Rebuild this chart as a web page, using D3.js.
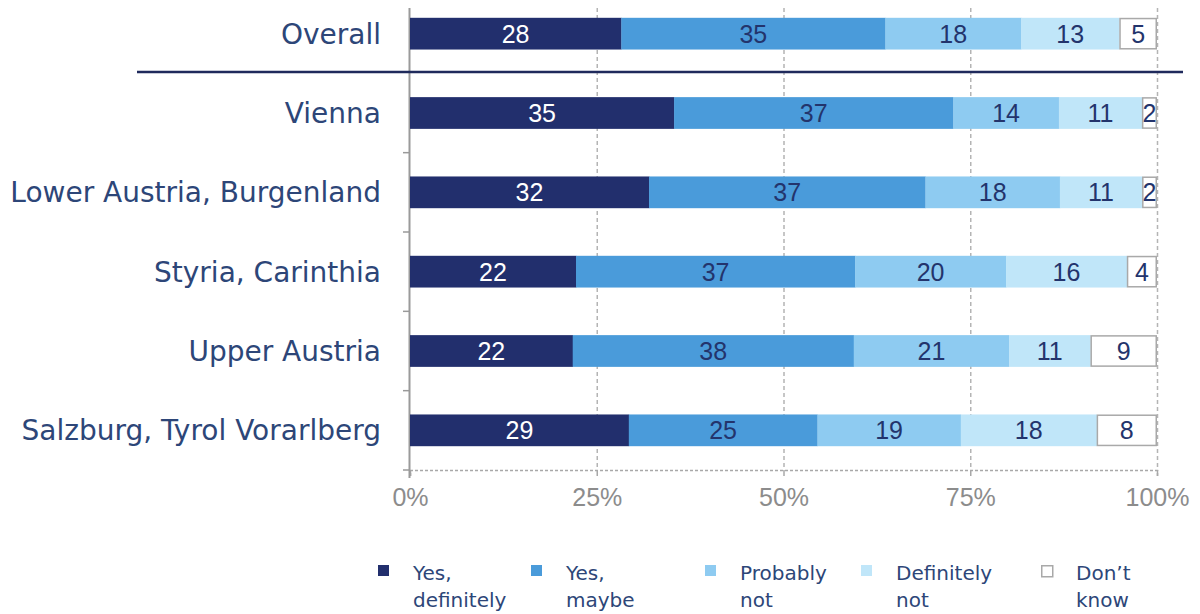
<!DOCTYPE html>
<html>
<head>
<meta charset="utf-8">
<script src="https://cdn.jsdelivr.net/npm/d3@7"></script>
<style>
  body { margin: 0; background: #fff; }
</style>
</head>
<body>
<div id="chart"></div>
<script>
// data
let regions = ["Overall", "Vienna", "Lower Austria, Burgenland", "Styria, Carinthia", "Upper Austria", "Salzburg, Tyrol Vorarlberg"];
let answers = ["Yes, definitely", "Yes, maybe", "Probably not", "Definitely not", "Don’t know"];
let yesDefinitely = [28, 35, 32, 22, 22, 29];
let yesMaybe = [35, 37, 37, 37, 38, 25];
let probablyNot = [18, 14, 18, 20, 21, 19];
let definitelyNot = [13, 11, 11, 16, 11, 18];
let dontKnow = [5, 2, 2, 4, 9, 8];
let tickValues = [0, 25, 50, 75, 100];

// size
let width = 1200;
let height = 614;
let margin = { top: 8, left: 410, right: 43, bottom: 144 };
let chartWidth = width - margin.left - margin.right;
let colors = ["#222f6d", "#4a9bda", "#8ecbf1", "#c0e6f9", "#ffffff"];
let textColors = ["#ffffff", "#23346c", "#23346c", "#23346c", "#23346c"];
let navy = "#2d4678";

let series = [yesDefinitely, yesMaybe, probablyNot, definitelyNot, dontKnow];

let svg = d3.select("#chart").append("svg").attr("width", width).attr("height", height)
    .style("font-family", "'Liberation Sans', Arial, sans-serif");

let xScale = d3.scaleLinear().domain([0, 100]).range([margin.left, margin.left + chartWidth]);
let yScale = d3.scaleBand().domain(regions).range([-6, 470]).paddingInner(0.6).paddingOuter(0.3);

// gridlines
svg.append("g").selectAll("line").data(tickValues.slice(1)).enter().append("line")
    .attr("x1", d => xScale(d) + 0.5).attr("x2", d => xScale(d) + 0.5)
    .attr("y1", 8).attr("y2", 470)
    .attr("stroke", "#b4b4b4").attr("stroke-width", 1.5).attr("stroke-dasharray", "4,3");

// bottom axis
let xAxis = d3.axisBottom(xScale).tickValues(tickValues).tickFormat(d => d + "%").tickSize(6).tickPadding(12);
let xg = svg.append("g").attr("transform", "translate(0, 470)").call(xAxis);
xg.select(".domain").attr("stroke", "#a8a8a8").attr("stroke-width", 1.5).attr("stroke-dasharray", "3,2");
xg.selectAll(".tick line").attr("stroke", "#a8a8a8").attr("stroke-width", 1.5);
xg.selectAll("text").attr("fill", "#8c8c8c").style("font-size", "25px")
    .style("font-family", "'Liberation Sans', Arial, sans-serif");

// left axis line and ticks between rows
let step = yScale.step();
svg.append("line").attr("x1", 409.5).attr("x2", 409.5).attr("y1", 8).attr("y2", 478)
    .attr("stroke", "#9a9a9a").attr("stroke-width", 2);
svg.append("g").selectAll("line").data(regions.slice(1)).enter().append("line")
    .attr("x1", 403).attr("x2", 409)
    .attr("y1", d => yScale(d) + yScale.bandwidth() + step * 0.3)
    .attr("y2", d => yScale(d) + yScale.bandwidth() + step * 0.3)
    .attr("stroke", "#9a9a9a").attr("stroke-width", 1.5);

// stacked segments
regions.forEach((r, i) => {
    let total = d3.sum(series, s => s[i]);
    let start = 0;
    series.forEach((s, k) => {
        let v = s[i] / total * 100;
        let x0 = xScale(start), x1 = xScale(start + v);
        let seg = svg.append("g");
        seg.append("rect")
            .attr("x", k === 4 ? x0 + 0.75 : x0).attr("y", yScale(r) + (k === 4 ? 0.75 : 0))
            .attr("width", k === 4 ? x1 - x0 - 1.5 : x1 - x0 + 0.3)
            .attr("height", yScale.bandwidth() - (k === 4 ? 1.5 : 0))
            .attr("fill", colors[k])
            .attr("stroke", k === 4 ? "#a9a9a9" : "none").attr("stroke-width", 1.5);
        seg.append("text")
            .attr("x", (x0 + x1) / 2).attr("y", yScale(r) + yScale.bandwidth() / 2 + 9)
            .attr("text-anchor", "middle").attr("fill", textColors[k])
            .style("font-size", "25px").text(s[i]);
        start += v;
    });
});

// category labels
svg.append("g").selectAll("text").data(regions).enter().append("text")
    .attr("x", 381).attr("y", d => yScale(d) + yScale.bandwidth() / 2 + 10)
    .attr("text-anchor", "end").attr("fill", navy)
    .style("font-family", "'DejaVu Sans', sans-serif")
    .style("font-size", "28px").text(d => d);

// separator under Overall
svg.append("line").attr("x1", 137).attr("x2", 1183).attr("y1", 72).attr("y2", 72)
    .attr("stroke", "#1f2a5c").attr("stroke-width", 2.5);

// legend
let legendX = [378, 531, 705, 861, 1041];
let legend = svg.append("g").selectAll("g").data(answers).enter().append("g")
    .attr("transform", (d, i) => `translate(${legendX[i]}, 565)`);
legend.append("rect").attr("width", 11).attr("height", 11)
    .attr("x", (d, i) => i === 4 ? 0.75 : 0).attr("y", (d, i) => i === 4 ? 0.75 : 0)
    .attr("fill", (d, i) => colors[i])
    .attr("stroke", (d, i) => i === 4 ? "#a9a9a9" : "none").attr("stroke-width", 1.5);
let lt = legend.append("text").attr("x", 35).attr("fill", navy)
    .style("font-family", "'DejaVu Sans', sans-serif")
    .style("font-size", "20px");
lt.each(function(d) {
    let parts = d.split(" ");
    let first = parts[0];
    let rest = parts.slice(1).join(" ");
    d3.select(this).append("tspan").attr("x", 35).attr("y", 15).text(first);
    d3.select(this).append("tspan").attr("x", 35).attr("y", 42).text(rest);
});
</script>
</body>
</html>
